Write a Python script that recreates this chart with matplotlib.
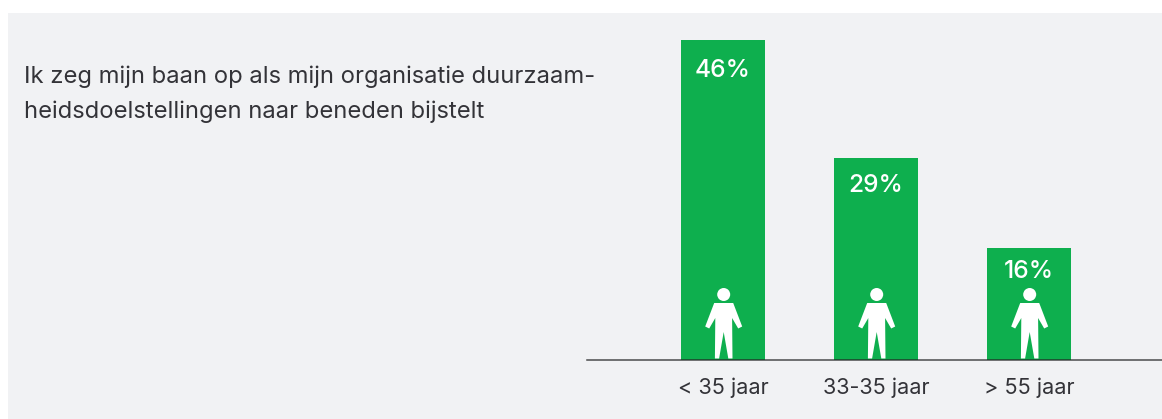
import matplotlib
matplotlib.use("Agg")
import matplotlib.pyplot as plt
from matplotlib.patches import Circle, PathPatch, Rectangle
from matplotlib.path import Path
from matplotlib.transforms import Affine2D

# Chart data
categories = ["< 35 jaar", "33-35 jaar", "> 55 jaar"]
values = [46, 29, 16]
statement = "Ik zeg mijn baan op als mijn organisatie duurzaam-\nheidsdoelstellingen naar beneden bijstelt"

# Layout and colours
W, H = 1162, 419
GREEN = "#0eaf4e"
PANEL = "#f1f2f4"
TEXT = "#333338"
label_drop = [30, 27, 23]  # pixels from bar top to the centre of the label
FONT = "Inter"

plt.rcParams["font.family"] = [FONT, "DejaVu Sans"]

fig = plt.figure(figsize=(W / 100, H / 100), dpi=100, facecolor="white")
fig.add_artist(Rectangle((8 / W, 0), 1 - 8 / W, 1 - 13 / H, transform=fig.transFigure,
                         facecolor=PANEL, edgecolor="none", zorder=-1))

# Axes runs from the baseline (y=359.5) up to the top of the panel
ax = fig.add_axes([587 / W, (H - 359.5) / H, (W - 587) / W, (359.5 - 13) / H])
ax.patch.set_alpha(0)
ax.set_xlim(-136 / 153, 439 / 153)
px_per_pct = 6.945
ax.set_ylim(0, 346.5 / px_per_pct)

x = list(range(len(categories)))
ax.bar(x, values, width=84 / 153, color=GREEN, zorder=2)

for spine in ["top", "left", "right"]:
    ax.spines[spine].set_visible(False)
ax.spines["bottom"].set_color("#222222")
ax.spines["bottom"].set_linewidth(1.1)
ax.spines["bottom"].set_alpha(0.8)
ax.spines["bottom"].set_zorder(4)
ax.set_yticks([])
ax.set_xticks(x)
ax.set_xticklabels(categories, fontsize=15.6, color=TEXT)
ax.tick_params(axis="x", length=0, pad=13)

for i, v in enumerate(values):
    ax.annotate(f"{v}%", (i, v), xytext=(0, -label_drop[i] * 0.72), textcoords="offset points",
                ha="center", va="center", color="white", fontsize=17.6, fontweight="medium", zorder=5)

# Person icon, in pixels from the foot of the bar
person = [(0, 27.5), (4.6, 1), (8.8, 1), (8.4, 41.5), (14.5, 31), (18.5, 33),
          (9.5, 56.5), (-9.5, 56.5), (-18.5, 33), (-14.5, 31), (-8.4, 41.5), (-8.8, 1), (-4.6, 1), (0, 27.5)]
fig.canvas.draw()
for i in x:
    cx, cy = ax.transData.transform((i, 0))
    place = Affine2D().translate(cx + 0.7, cy)
    ax.add_patch(PathPatch(Path(person, closed=True), transform=place, facecolor="white",
                           edgecolor="none", zorder=3, clip_on=False))
    ax.add_patch(Circle((0, 65), 6.5, transform=place, facecolor="white",
                        edgecolor="none", zorder=3, clip_on=False))

fig.text(24 / W, 1 - 94 / H, statement, fontsize=17.1, color=TEXT, va="center", ha="left",
         linespacing=1.72, transform=fig.transFigure)

fig.savefig("out.png", dpi=100)
